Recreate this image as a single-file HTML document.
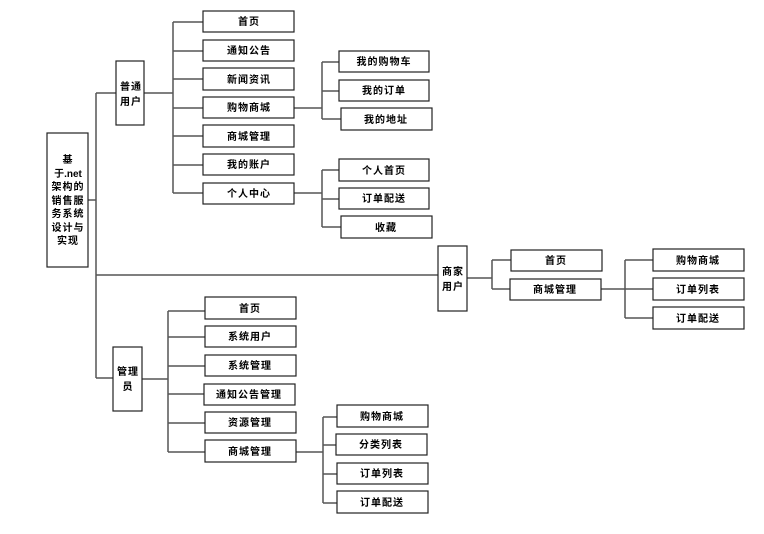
<!DOCTYPE html>
<html><head><meta charset="utf-8"><style>
html,body{margin:0;padding:0;background:#fff;width:764px;height:534px;overflow:hidden}
svg text{font-family:"Liberation Sans","Noto Sans CJK SC",sans-serif;font-size:10px;font-weight:bold;fill:#000;text-anchor:middle;letter-spacing:1px}
</style></head><body>
<svg width="764" height="534" viewBox="0 0 764 534" xmlns="http://www.w3.org/2000/svg">
<g stroke="#555" stroke-width="1.5" fill="none">
<path d="M88 200H96M96 93V378M96 93H116M96 275H438M96 378H113"/>
<path d="M144 93H173M173 22V193M173 22H203M173 51H203M173 79H203M173 108H203M173 136H203M173 165H203M173 193H203"/>
<path d="M294 108H322M322 62V119M322 62H339M322 91H339M322 119H341"/>
<path d="M294 193H322M322 170V227M322 170H339M322 199H339M322 227H341"/>
<path d="M467 278H492M492 260V289M492 260H511M492 289H510"/>
<path d="M601 289H625M625 260V318M625 260H653M625 289H653M625 318H653"/>
<path d="M142 379H168M168 311V452M168 311H205M168 337H205M168 366H205M168 394H204M168 423H205M168 452H205"/>
<path d="M296 452H323M323 417V503M323 417H337M323 445H336M323 474H337M323 503H337"/>
</g>
<g stroke="#222" stroke-width="1.2" fill="#fff">
<rect x="47" y="133" width="41" height="134"/>
<rect x="116" y="61" width="28" height="64"/>
<rect x="438" y="246" width="29" height="65"/>
<rect x="113" y="347" width="29" height="64"/>
<rect x="203" y="11" width="91" height="21"/>
<rect x="203" y="40" width="91" height="21"/>
<rect x="203" y="68" width="91" height="22"/>
<rect x="203" y="97" width="91" height="21"/>
<rect x="203" y="125" width="91" height="22"/>
<rect x="203" y="154" width="91" height="21"/>
<rect x="203" y="183" width="91" height="21"/>
<rect x="339" y="51" width="90" height="21"/>
<rect x="339" y="80" width="90" height="21"/>
<rect x="341" y="108" width="91" height="22"/>
<rect x="339" y="159" width="90" height="22"/>
<rect x="339" y="188" width="90" height="21"/>
<rect x="341" y="216" width="91" height="22"/>
<rect x="511" y="250" width="91" height="21"/>
<rect x="510" y="279" width="91" height="21"/>
<rect x="653" y="249" width="91" height="22"/>
<rect x="653" y="278" width="91" height="22"/>
<rect x="653" y="307" width="91" height="22"/>
<rect x="205" y="297" width="91" height="22"/>
<rect x="205" y="326" width="91" height="21"/>
<rect x="205" y="355" width="91" height="21"/>
<rect x="204" y="384" width="91" height="21"/>
<rect x="205" y="412" width="91" height="21"/>
<rect x="205" y="440" width="91" height="22"/>
<rect x="337" y="405" width="91" height="22"/>
<rect x="336" y="434" width="91" height="21"/>
<rect x="337" y="463" width="91" height="21"/>
<rect x="337" y="491" width="91" height="22"/>
</g>
<g>
<text x="68" y="163">基</text>
<text x="68" y="177" style="letter-spacing:0">于.net</text>
<text x="68" y="190">架构的</text>
<text x="68" y="204">销售服</text>
<text x="68" y="217">务系统</text>
<text x="68" y="231">设计与</text>
<text x="68" y="244">实现</text>
<text x="131" y="90">普通</text>
<text x="131" y="105">用户</text>
<text x="453" y="275">商家</text>
<text x="453" y="290">用户</text>
<text x="128" y="375">管理</text>
<text x="128" y="390">员</text>
<text x="249" y="25">首页</text>
<text x="249" y="54">通知公告</text>
<text x="249" y="83">新闻资讯</text>
<text x="249" y="111">购物商城</text>
<text x="249" y="140">商城管理</text>
<text x="249" y="168">我的账户</text>
<text x="249" y="197">个人中心</text>
<text x="384" y="65">我的购物车</text>
<text x="384" y="94">我的订单</text>
<text x="386" y="123">我的地址</text>
<text x="384" y="174">个人首页</text>
<text x="384" y="202">订单配送</text>
<text x="386" y="231">收藏</text>
<text x="556" y="264">首页</text>
<text x="555" y="293">商城管理</text>
<text x="698" y="264">购物商城</text>
<text x="698" y="293">订单列表</text>
<text x="698" y="322">订单配送</text>
<text x="250" y="312">首页</text>
<text x="250" y="340">系统用户</text>
<text x="250" y="369">系统管理</text>
<text x="249" y="398">通知公告管理</text>
<text x="250" y="426">资源管理</text>
<text x="250" y="455">商城管理</text>
<text x="382" y="420">购物商城</text>
<text x="381" y="448">分类列表</text>
<text x="382" y="477">订单列表</text>
<text x="382" y="506">订单配送</text>
</g>
</svg>
</body></html>
